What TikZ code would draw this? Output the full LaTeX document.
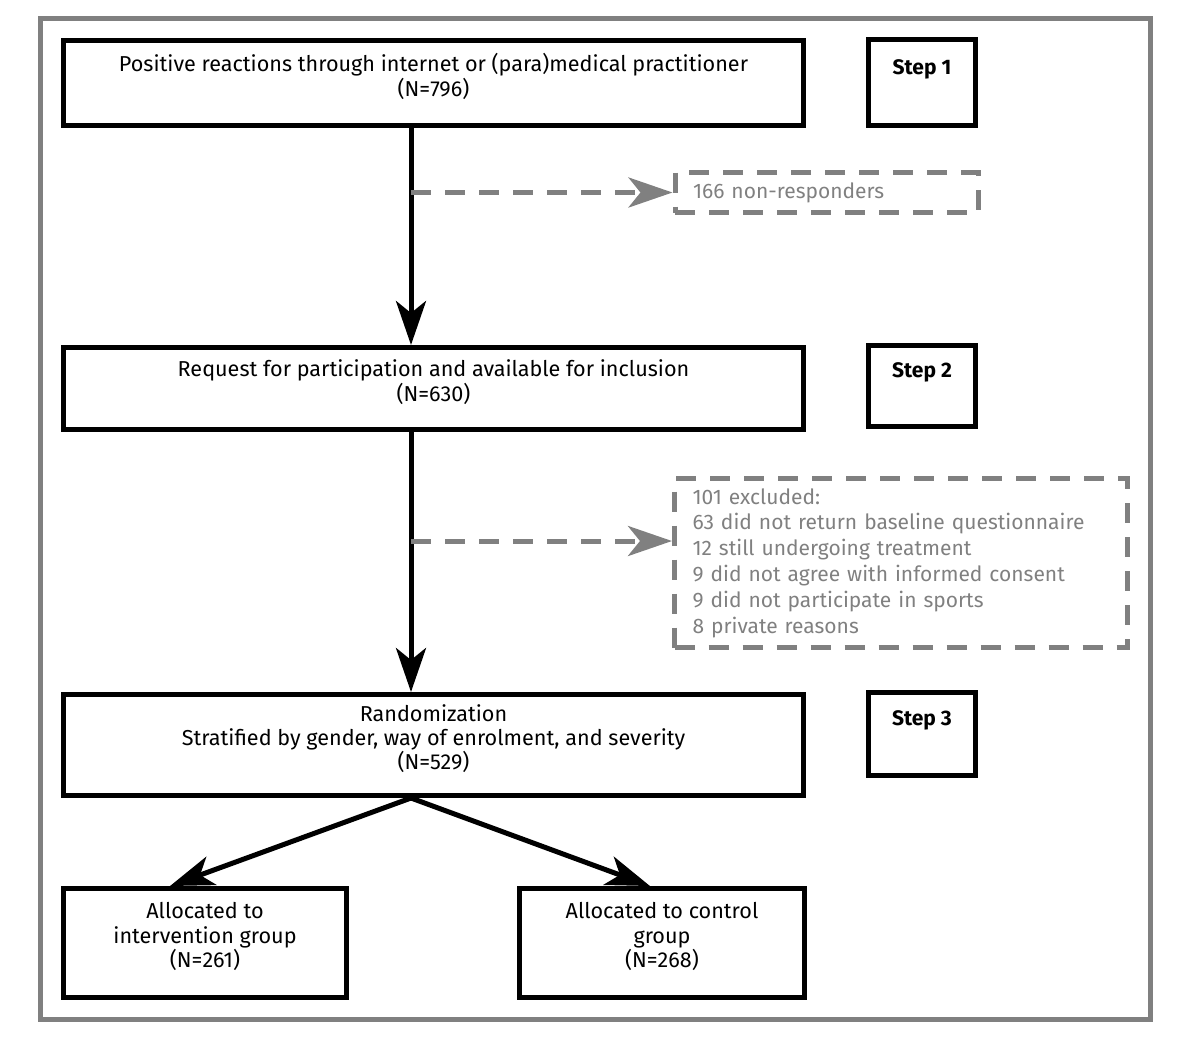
\documentclass[tikz,border=0pt]{standalone}
\usepackage{fontspec}
\setmainfont{Fira Sans}
\usepackage{tikz}
\usetikzlibrary{arrows.meta}
\definecolor{framegray}{HTML}{808080}

\begin{document}
\begin{tikzpicture}[x=0.5pt,y=-0.5pt,
  box/.style={draw,line width=2.5pt,align=center,text depth=8pt,font={\fontsize{10.8}{12.2}\selectfont}},
  stepbox/.style={draw,line width=2.5pt,font={\bfseries\fontsize{10.5}{12.5}\selectfont},minimum width=53.5pt,text depth=15pt},
  skipbox/.style={draw=framegray,line width=2.5pt,dash pattern=on 10pt off 7pt,text=framegray,align=left,inner xsep=9pt,font={\fontsize{10.5}{12.9}\selectfont}},
  arr/.style={line width=2.5pt,-{Stealth[length=22pt,width=15pt,inset=6pt]}},
  skiparr/.style={framegray,line width=2.5pt,dash pattern=on 10pt off 7pt,-{Stealth[length=22pt,width=15pt,inset=6pt]}}]
\useasboundingbox (0,0) rectangle (1200,1057);
\draw[framegray,line width=2.5pt] (40.5,18.5) rectangle (1150.5,1019.5);
% main column
\node[box,minimum width=370pt,minimum height=42.5pt] (react) at (433.5,83) {Positive reactions through internet or (para)medical practitioner\\ (N=796)};
\node[box,minimum width=370pt,minimum height=41pt] (request) at (433.5,388.5) {Request for participation and available for inclusion\\ (N=630)};
\node[box,minimum width=370pt,minimum height=50.5pt] (random) at (433.5,745) {Randomization\\ Stratified by gender, way of enrolment, and severity\\ (N=529)};
\node[box,minimum width=141.5pt,minimum height=54.5pt] (interv) at (205,943) {Allocated to\\ intervention group\\ (N=261)};
\node[box,minimum width=142.5pt,minimum height=54.5pt] (control) at (662,943) {Allocated to control\\ group\\ (N=268)};
% steps
\node[stepbox,minimum height=43pt] (step1) at (922,82.5) {Step 1};
\node[stepbox,minimum height=40.5pt] (step2) at (922,385.5) {Step 2};
\node[stepbox,minimum height=41.5pt] (step3) at (922,733.5) {Step 3};
% drop-outs
\node[skipbox,anchor=west,minimum height=20pt,text width=133.5pt] (nonresp) at (672.5,192.5) {166 non-responders};
\node[skipbox,minimum height=84.5pt,text width=208.5pt] (excl) at (901,563) {101 excluded:\\ 63 did not return baseline questionnaire\\ 12 still undergoing treatment\\ 9 did not agree with informed consent\\ 9 did not participate in sports\\ 8 private reasons};
% connectors
\coordinate (trunk) at (411,0);
\draw[arr] (react.south -| trunk) -- (request.north -| trunk);
\draw[arr] (request.south -| trunk) -- (random.north -| trunk);
\draw[skiparr] (nonresp.west -| trunk) -- (nonresp.west);
\draw[skiparr] ([yshift=11pt]excl.west -| trunk) -- ([yshift=11pt]excl.west);
\draw[arr] (random.south -| trunk) -- ([xshift=-17.5pt]interv.north);
\draw[arr] (random.south -| trunk) -- ([xshift=-6pt]control.north);
\end{tikzpicture}
\end{document}
